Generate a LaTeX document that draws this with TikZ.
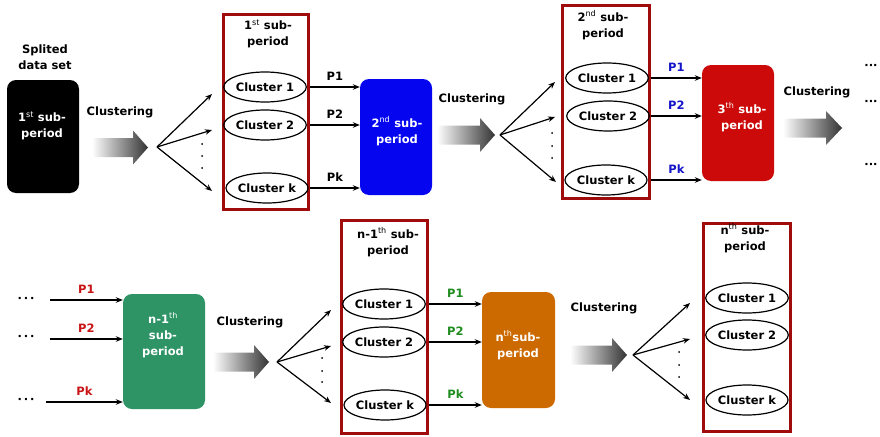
\documentclass[tikz,border=0pt]{standalone}
\usepackage{fontspec}
\setmainfont{DejaVu Sans}
\usetikzlibrary{arrows.meta,shapes.geometric}
\definecolor{frame}{HTML}{A00C0C}
\definecolor{bbox}{HTML}{0505F0}
\definecolor{rbox}{HTML}{CC0A0A}
\definecolor{gbox}{HTML}{2E9466}
\definecolor{obox}{HTML}{CC6A00}
\definecolor{plblue}{HTML}{1414C8}
\definecolor{plred}{HTML}{C81414}
\definecolor{plgreen}{HTML}{1E8C1E}
\newcommand\sps[1]{\textsuperscript{\mdseries #1}}
\newcommand\garrow[4]{%
  \shade[left color=white,right color=black!80]
    ({#1},{#4-9.5}) -- ({#2},{#4-9.5}) -- ({#2},{#4-17}) -- ({#3},{#4})
    -- ({#2},{#4+17}) -- ({#2},{#4+9.5}) -- ({#1},{#4+9.5}) -- cycle;}
\begin{document}
\begin{tikzpicture}[x=1pt,y=-1pt,font=\fontsize{11.5}{16}\selectfont\bfseries,
  frm/.style={draw=frame,line width=3pt,inner sep=0pt},
  clu/.style={ellipse,draw,line width=1.2pt,minimum width=76pt,minimum height=30pt,inner sep=0pt},
  subbox/.style={rounded corners=9pt,inner sep=0pt},
  arr/.style={-{Stealth[length=7pt,width=5.5pt]},line width=1.2pt},
  wtxt/.style={text=white,align=center,inner sep=0pt},
  txt/.style={align=center,inner sep=0pt},
  vdot/.style={fill=black}]
\useasboundingbox (0,0) rectangle (880,436);

% ---------- top row ----------
\node[txt] (sds) at (45,57) {Splited\\data set};
\node[subbox,fill=black,minimum width=72pt,minimum height=113pt] (b1) at (43,136.5) {};
\node[wtxt] (b1t) at (42,126) {1\sps{st} sub-\\period};

\node[txt] (cl1) at (120,112) {Clustering};
\garrow{92}{133}{148}{147.5}
\coordinate (f1) at (157,147);
\coordinate (f1a) at (212,94);
\coordinate (f1b) at (212,130);
\coordinate (f1c) at (212,191);
\draw[arr] (f1) -- (f1a);
\draw[arr] (f1) -- (f1b);
\draw[arr] (f1) -- (f1c);
\fill[vdot] (202,144) circle (1pt) (202,156) circle (1pt) (202,168) circle (1pt);

\node[frm,minimum width=85pt,minimum height=195pt] (r1) at (266,112) {};
\node[txt] (r1t) at (268,34) {1\sps{st} sub-\\period};
\node[clu] (c11) at (265,87) {Cluster 1};
\node[clu] (c12) at (265,125) {Cluster 2};
\node[clu] (c1k) at (267,188) {Cluster k};

\node[subbox,fill=bbox,minimum width=72pt,minimum height=116pt] (b2) at (396,137) {};
\node[wtxt] (b2t) at (397,131) {2\sps{nd} sub-\\period};
\draw[arr] (r1.east |- c11) -- node[above=3pt] (p11) {P1} (b2.west |- c11);
\draw[arr] (r1.east |- c12) -- node[above=3pt] (p12) {P2} (b2.west |- c12);
\draw[arr] (r1.east |- c1k) -- node[above=3pt] (p1k) {Pk} (b2.west |- c1k);

\node[txt] (cl2) at (472,99) {Clustering};
\garrow{437}{480}{495}{135}
\coordinate (f2) at (500,135);
\coordinate (f2a) at (555,82);
\coordinate (f2b) at (555,117);
\coordinate (f2c) at (556,182);
\draw[arr] (f2) -- (f2a);
\draw[arr] (f2) -- (f2b);
\draw[arr] (f2) -- (f2c);
\fill[vdot] (552,133) circle (1pt) (552,146) circle (1pt) (552,158) circle (1pt);

\node[frm,minimum width=87pt,minimum height=193pt] (r2) at (606,102) {};
\node[txt] (r2t) at (603,25) {2\sps{nd} sub-\\period};
\node[clu] (c21) at (607,78) {Cluster 1};
\node[clu] (c22) at (608,116) {Cluster 2};
\node[clu] (c2k) at (606,180) {Cluster k};

\node[subbox,fill=rbox,minimum width=72pt,minimum height=116pt] (b3) at (738,123) {};
\node[wtxt] (b3t) at (742,117) {3\sps{th} sub-\\period};
\draw[arr] (r2.east |- c21) -- node[above=3pt,text=plblue] (p21) {P1} (b3.west |- c21);
\draw[arr] (r2.east |- c22) -- node[above=3pt,text=plblue] (p22) {P2} (b3.west |- c22);
\draw[arr] (r2.east |- c2k) -- node[above=3pt,text=plblue] (p2k) {Pk} (b3.west |- c2k);

\node[txt] (cl3) at (817,92) {Clustering};
\garrow{783}{826}{842}{128}
\node[txt] (d1) at (871,67) {···};
\node[txt] (d2) at (871,103) {···};
\node[txt] (d3) at (871,166) {···};

% ---------- bottom row ----------
\node[txt] (e1) at (26,300) {·\,·\,·};
\node[txt] (e2) at (26,338) {·\,·\,·};
\node[txt] (e3) at (26,401) {·\,·\,·};
\node[subbox,fill=gbox,minimum width=82pt,minimum height=115pt] (b4) at (164,351.5) {};
\node[wtxt] (b4t) at (163,335) {n-1\sps{th}\\sub-\\period};
\coordinate (s1) at (50,300);
\coordinate (s2) at (50,339);
\coordinate (s3) at (46,402);
\draw[arr] (s1) -- node[above=3pt,text=plred] (q1) {P1} (b4.west |- s1);
\draw[arr] (s2) -- node[above=3pt,text=plred] (q2) {P2} (b4.west |- s2);
\draw[arr] (s3) -- node[above=3pt,text=plred] (qk) {Pk} (b4.west |- s3);

\node[txt] (cl4) at (250,322) {Clustering};
\garrow{213}{254}{269}{362}
\coordinate (f3) at (277,362);
\coordinate (f3a) at (331,310);
\coordinate (f3b) at (331,346);
\coordinate (f3c) at (331,403);
\draw[arr] (f3) -- (f3a);
\draw[arr] (f3) -- (f3b);
\draw[arr] (f3) -- (f3c);
\fill[vdot] (322,358) circle (1pt) (322,371) circle (1pt) (322,382) circle (1pt);

\node[frm,minimum width=86pt,minimum height=213pt] (r3) at (384.5,327) {};
\node[txt] (r3t) at (388,242) {n-1\sps{th} sub-\\period};
\node[clu] (c31) at (384,304) {Cluster 1};
\node[clu] (c32) at (384,342) {Cluster 2};
\node[clu] (c3k) at (385,405) {Cluster k};

\node[subbox,fill=obox,minimum width=73pt,minimum height=116pt] (b5) at (518.5,350) {};
\node[wtxt] (b5t) at (518,345) {n\sps{th}sub-\\period};
\draw[arr] (r3.east |- c31) -- node[above=3pt,text=plgreen] (p31) {P1} (b5.west |- c31);
\draw[arr] (r3.east |- c32) -- node[above=3pt,text=plgreen] (p32) {P2} (b5.west |- c32);
\draw[arr] (r3.east |- c3k) -- node[above=3pt,text=plgreen] (p3k) {Pk} (b5.west |- c3k);

\node[txt] (cl5) at (604,308) {Clustering};
\garrow{570}{612}{627}{355}
\coordinate (f4) at (633,355);
\coordinate (f4a) at (690,303);
\coordinate (f4b) at (690,339);
\coordinate (f4c) at (690,400);
\draw[arr] (f4) -- (f4a);
\draw[arr] (f4) -- (f4b);
\draw[arr] (f4) -- (f4c);
\fill[vdot] (679,352) circle (1pt) (679,365) circle (1pt) (679,377) circle (1pt);

\node[frm,minimum width=87pt,minimum height=208pt] (r4) at (747,327.5) {};
\node[txt] (r4t) at (745,238) {n\sps{th} sub-\\period};
\node[clu] (c41) at (747,298) {Cluster 1};
\node[clu] (c42) at (747,335) {Cluster 2};
\node[clu] (c4k) at (747,400) {Cluster k};
\end{tikzpicture}
\end{document}
